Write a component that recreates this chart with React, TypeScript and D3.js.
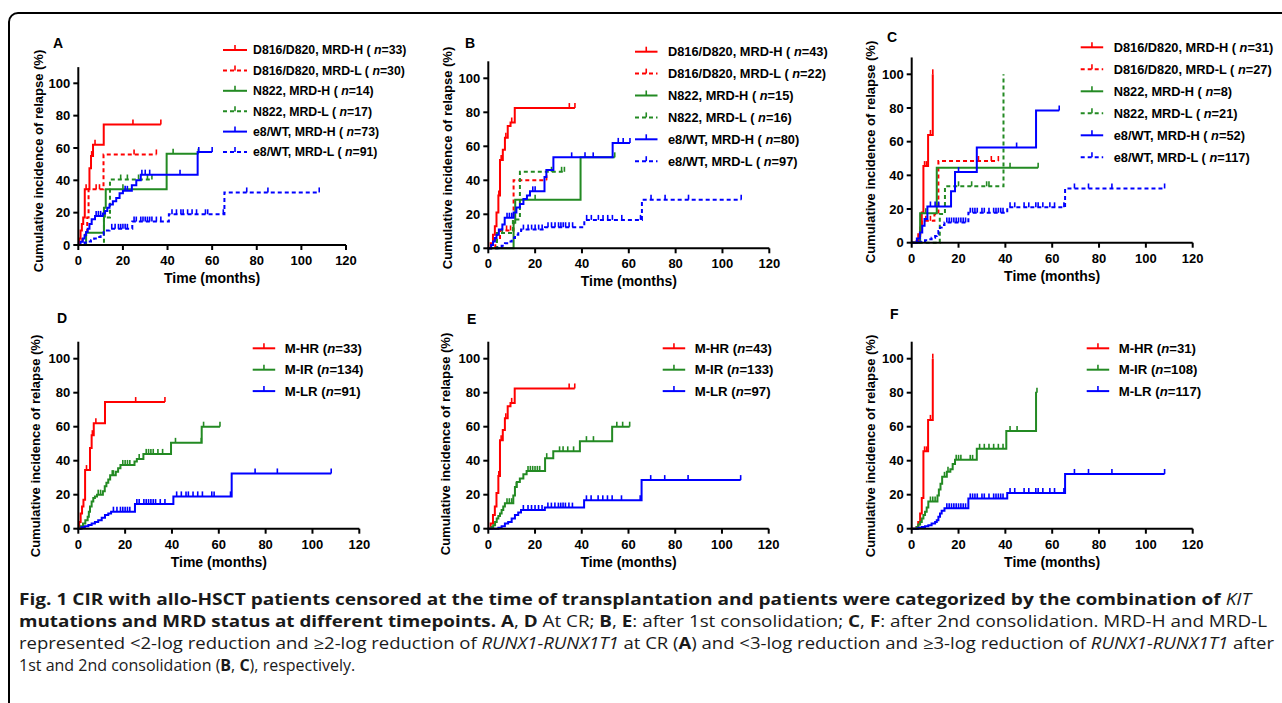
import * as d3 from "d3";

// ---- data (months, cumulative incidence %) ----

// At CR (A, D)
const crD816HTime = [0.4, 1, 1.6, 2.2, 2.9, 5, 5.7, 6.6, 11.4];
const crD816HCir = [4, 9, 13, 17, 34.5, 47.5, 55, 62, 74.5];
const crD816HCens = [3.5, 6, 7.5, 24.5, 37];
const crD816LTime = [1.8, 3, 4, 4.6, 11.3];
const crD816LCir = [3.5, 7, 17, 34.5, 56];
const crD816LCens = [8, 9.5, 25, 35];
const crN822HTime = [3.5, 11.5, 12.3, 39.6];
const crN822HCir = [7.5, 23, 34.5, 56.5];
const crN822HCens = [20, 42.5, 53.8];
const crN822LTime = [11.5, 14.2];
const crN822LCir = [17, 40.5];
const crN822LCens = [12, 19, 22, 27, 31, 33];
const crE8HTime = [1, 2, 2.8, 3.5, 4.2, 5, 6, 7.5, 11, 12, 13, 14, 15.5, 17, 18.5, 20, 24, 26, 28, 53.5];
const crE8HCir = [2, 4, 6, 8, 10, 13, 16, 18, 19.5, 21, 23, 25, 27, 29, 32, 33.5, 37, 40, 43.5, 57.5];
const crE8HCens = [8, 9, 10, 21, 22, 28.5, 30, 32, 45.6, 54, 60];
const crE8LTime = [1.4, 2.8, 4.3, 5.7, 7.1, 8.5, 10, 11.4, 12.8, 14, 24.2, 40.6, 65.5];
const crE8LCir = [0.8, 1.5, 2.2, 3, 4, 5, 6.5, 8, 9, 10, 14.5, 19, 32.5];
const crE8LCens = [15, 16.5, 18, 19, 20, 21, 22, 25, 26, 28, 29, 30, 31, 32, 33, 35, 37, 42, 44, 46, 47, 49, 51, 53, 57, 58, 65, 75.5, 85, 108];
const crMIRTime = [1, 2, 3, 4, 4.5, 5, 5.7, 6.4, 7.1, 8, 10.5, 11.3, 12, 12.8, 13.6, 16, 17, 18, 24, 25, 27.8, 39.6, 52.7];
const crMIRCir = [1.5, 3, 5, 7, 10, 13, 16, 18, 19, 20, 22, 25, 27, 29, 31.5, 33.5, 35.5, 37.5, 39.5, 41, 44, 50.5, 60];
const crMIRCens = [8.5, 9.5, 14.5, 15, 19, 20, 21, 22, 26, 29, 30, 31, 32, 34, 36, 41.5, 52.5, 53.5, 60.5];

// After 1st consolidation (B, E)
const c1D816HTime = [1, 2, 2.8, 3.5, 4.3, 5, 6.2, 7.1, 8.3, 9.5, 11.3];
const c1D816HCir = [3, 8, 13, 21, 31, 52, 58, 65, 72, 74, 82.5];
const c1D816HCens = [4.5, 5.5, 7.5, 10, 34.6, 37];
const c1D816LTime = [3, 5, 10.8];
const c1D816LCir = [5, 10.5, 40];
const c1D816LCens = [7.8, 9.5, 24.9];
const c1N822HTime = [10.8, 11.5, 39.4];
const c1N822HCir = [15, 28.5, 53.5];
const c1N822HCens = [20, 54];
const c1N822LTime = [3.7, 10.5, 13.5];
const c1N822LCir = [9, 17, 45];
const c1N822LCens = [6, 27, 31.3, 32.5];
const c1E8HTime = [1.2, 2, 2.8, 3.5, 4.5, 6, 7, 10.8, 12, 13.5, 15, 16.5, 17.8, 24, 24.8, 27.8, 53.1];
const c1E8HCir = [2, 4, 6, 8, 11, 14, 18, 21, 24, 26, 29, 31, 33.5, 42, 46, 53.5, 62];
const c1E8HCens = [8, 9, 10, 19, 20, 35.6, 41.3, 44.8, 55.5, 57.6, 60.5];
const c1E8LTime = [4.3, 5.7, 7.1, 8.5, 10, 11.4, 12.8, 14, 24.2, 41, 65.6];
const c1E8LCir = [0.5, 1.5, 3, 4, 6, 8, 9.5, 11, 12.4, 16.7, 28.6];
const c1E8LCens = [15, 17, 18.5, 20, 21.5, 23, 25.5, 27, 28.5, 30, 31, 32, 33, 34.5, 36, 42, 44, 47, 49, 51, 53, 57, 65, 69.5, 75.5, 85.5, 108];
const c1MIRTime = [1.4, 2.1, 2.9, 3.6, 4.3, 5, 5.7, 6.4, 7.1, 10.7, 11.4, 12.2, 13.5, 15, 16.4, 24.3, 27.8, 39.2, 53];
const c1MIRCir = [1, 2, 4, 6, 7.5, 9, 11, 13, 15, 19.5, 24.5, 27.5, 29.5, 32, 34, 41.5, 45.5, 51.5, 60];
const c1MIRCens = [8, 9, 10, 12, 17, 18, 19, 20, 21, 22, 25, 30.5, 32, 34, 36.5, 42, 45, 55, 57.5, 60.5];

// After 2nd consolidation (C, F)
const c2D816HTime = [2.1, 2.8, 3.6, 4.3, 5, 7, 9];
const c2D816HCir = [1, 4, 9, 18, 45.5, 64, 100];
const c2D816HCens = [5.5, 6.3, 8, 9];
const c2D816LTime = [2.8, 4.3, 9.7, 11.4];
const c2D816LCir = [5, 13, 17, 48.5];
const c2D816LCens = [6, 8, 28.5, 34, 37];
const c2N822HTime = [3.6, 10.7];
const c2N822HCir = [17.5, 44.5];
const c2N822HCens = [6, 42, 54];
const c2N822LTime = [12, 14.2, 39.2];
const c2N822LCir = [17, 33.5, 100];
const c2N822LCens = [20, 25.6, 32, 33];
const c2E8HTime = [2.2, 3.5, 4.5, 5.5, 6.7, 16.8, 18.5, 27.8, 53.1];
const c2E8HCir = [2.5, 6, 10, 14, 21.5, 30.5, 42, 56.5, 78.5];
const c2E8HCens = [8, 10, 11.5, 20, 44.8, 63];
const c2E8LTime = [2.8, 4.3, 5.7, 7.1, 8.5, 10, 10.7, 11.4, 12.1, 12.8, 14, 24.2, 40.8, 65.5];
const c2E8LCir = [0.5, 1, 1.5, 2, 3, 4, 5, 7, 9, 10.5, 12, 17.8, 21, 32.2];
const c2E8LCens = [15, 16, 17, 18, 19, 20, 21, 22, 23, 25, 26, 27, 28, 30, 31, 33, 35, 36, 37, 38, 39, 42, 44, 48, 50, 53, 54, 56, 59, 61, 65, 69.5, 75.5, 85.5, 108];
const c2MIRTime = [2.1, 2.8, 3.6, 4.3, 5, 5.7, 6.4, 7.1, 11, 11.6, 12.3, 13, 15, 16.5, 17.5, 18.5, 27.8, 40.4, 53.1];
const c2MIRCir = [1, 2.5, 4, 6, 8, 10, 12.5, 16, 19.5, 23, 26.5, 30.5, 33.5, 35, 38, 40.5, 47, 57.5, 80];
const c2MIRCens = [8, 9, 10, 14, 15.5, 19, 20, 21, 25, 26, 29, 31, 33, 35, 37, 39, 42, 45, 53.5];

const topLabels = ["D816/D820, MRD-H", "D816/D820, MRD-L", "N822, MRD-H", "N822, MRD-L", "e8/WT, MRD-H", "e8/WT, MRD-L"];
const bottomLabels = ["M-HR", "M-IR", "M-LR"];
const nA = [33, 30, 14, 17, 73, 91];
const nB = [43, 22, 15, 16, 80, 97];
const nC = [31, 27, 8, 21, 52, 117];
const nD = [33, 134, 91];
const nE = [43, 133, 97];
const nF = [31, 108, 117];

const xTicks = [0, 20, 40, 60, 80, 100, 120];
const yTicks = [0, 20, 40, 60, 80, 100];

const RED = "#ff0000";
const GREEN = "#238a23";
const BLUE = "#0000ff";
const FONT = "'Liberation Sans', Arial, sans-serif";

type Series = { label: string; n: number; color: string; dashed: boolean; time: number[]; cir: number[]; cens: number[] };
type Panel = {
  letter: string; lx: number; ly: number;
  x0: number; x1: number; y0: number; y100: number;
  tx: number; ty: number;
  legX: number; legY: number; legGap: number; legFont: number; spaced: boolean;
  series: Series[];
};

const topSeries = (n: number[], d: number[][][]): Series[] =>
  topLabels.map((label, i) => ({
    label, n: n[i], color: [RED, RED, GREEN, GREEN, BLUE, BLUE][i], dashed: i % 2 === 1,
    time: d[i][0], cir: d[i][1], cens: d[i][2],
  }));
const bottomSeries = (n: number[], d: number[][][]): Series[] =>
  bottomLabels.map((label, i) => ({
    label, n: n[i], color: [RED, GREEN, BLUE][i], dashed: false,
    time: d[i][0], cir: d[i][1], cens: d[i][2],
  }));

const panels: Panel[] = [
  { letter: "A", lx: 53, ly: 48, x0: 78.3, x1: 346, y0: 245, y100: 83.3, tx: 38, ty: 161,
    legX: 223, legY: 50, legGap: 20.4, legFont: 12.3, spaced: true,
    series: topSeries(nA, [[crD816HTime, crD816HCir, crD816HCens], [crD816LTime, crD816LCir, crD816LCens], [crN822HTime, crN822HCir, crN822HCens], [crN822LTime, crN822LCir, crN822LCens], [crE8HTime, crE8HCir, crE8HCens], [crE8LTime, crE8LCir, crE8LCens]]) },
  { letter: "B", lx: 465, ly: 48, x0: 488.3, x1: 769.3, y0: 248.3, y100: 78.3, tx: 447, ty: 158,
    legX: 635, legY: 51.7, legGap: 21.9, legFont: 12.8, spaced: true,
    series: topSeries(nB, [[c1D816HTime, c1D816HCir, c1D816HCens], [c1D816LTime, c1D816LCir, c1D816LCens], [c1N822HTime, c1N822HCir, c1N822HCens], [c1N822LTime, c1N822LCir, c1N822LCens], [c1E8HTime, c1E8HCir, c1E8HCens], [c1E8LTime, c1E8LCir, c1E8LCens]]) },
  { letter: "C", lx: 887, ly: 42, x0: 911.7, x1: 1192.7, y0: 242.7, y100: 74.3, tx: 870, ty: 152,
    legX: 1080.7, legY: 47.3, legGap: 22, legFont: 12.8, spaced: true,
    series: topSeries(nC, [[c2D816HTime, c2D816HCir, c2D816HCens], [c2D816LTime, c2D816LCir, c2D816LCens], [c2N822HTime, c2N822HCir, c2N822HCens], [c2N822LTime, c2N822LCir, c2N822LCens], [c2E8HTime, c2E8HCir, c2E8HCens], [c2E8LTime, c2E8LCir, c2E8LCens]]) },
  { letter: "D", lx: 57, ly: 323, x0: 78.3, x1: 359.3, y0: 528.7, y100: 358.7, tx: 35, ty: 446,
    legX: 252.7, legY: 348.3, legGap: 21.4, legFont: 13.2, spaced: false,
    series: bottomSeries(nD, [[crD816HTime, crD816HCir, crD816HCens], [crMIRTime, crMIRCir, crMIRCens], [crE8LTime, crE8LCir, crE8LCens]]) },
  { letter: "E", lx: 467, ly: 324, x0: 488.3, x1: 768.7, y0: 528.7, y100: 358.7, tx: 445, ty: 444,
    legX: 662.7, legY: 348.3, legGap: 21.4, legFont: 13.2, spaced: false,
    series: bottomSeries(nE, [[c1D816HTime, c1D816HCir, c1D816HCens], [c1MIRTime, c1MIRCir, c1MIRCens], [c1E8LTime, c1E8LCir, c1E8LCens]]) },
  { letter: "F", lx: 890, ly: 319, x0: 911.7, x1: 1192.7, y0: 528.7, y100: 358.7, tx: 870, ty: 446,
    legX: 1086.7, legY: 348.3, legGap: 21.4, legFont: 13.2, spaced: false,
    series: bottomSeries(nF, [[c2D816HTime, c2D816HCir, c2D816HCens], [c2MIRTime, c2MIRCir, c2MIRCens], [c2E8LTime, c2E8LCir, c2E8LCens]]) },
];

type Seg = [string, "b" | "i" | "r"];
const captionLines: { segs: Seg[]; width: number | null }[] = [
  { segs: [["Fig. 1 CIR with allo-HSCT patients censored at the time of transplantation and patients were categorized by the combination of ", "b"], ["KIT", "i"]], width: 1232 },
  { segs: [["mutations and MRD status at different timepoints. ", "b"], ["A", "b"], [", ", "r"], ["D", "b"], [" At CR; ", "r"], ["B", "b"], [", ", "r"], ["E", "b"], [": after 1st consolidation; ", "r"], ["C", "b"], [", ", "r"], ["F", "b"], [": after 2nd consolidation. MRD-H and MRD-L", "r"]], width: 1248 },
  { segs: [["represented <2-log reduction and ≥2-log reduction of ", "r"], ["RUNX1-RUNX1T1", "i"], [" at CR (", "r"], ["A", "b"], [") and <3-log reduction and ≥3-log reduction of ", "r"], ["RUNX1-RUNX1T1", "i"], [" after", "r"]], width: 1255 },
  { segs: [["1st and 2nd consolidation (", "r"], ["B", "b"], [", ", "r"], ["C", "b"], ["), respectively.", "r"]], width: null },
];

function Curve({ s, x, y }: { s: Series; x: d3.ScaleLinear<number, number>; y: d3.ScaleLinear<number, number> }) {
  const end = Math.max(d3.max(s.cens) ?? 0, s.time[s.time.length - 1]);
  const pts: [number, number][] = [[0, 0], ...s.time.map((t, i) => [t, s.cir[i]] as [number, number]), [end, s.cir[s.cir.length - 1]]];
  const line = d3.line<[number, number]>().x((d) => x(d[0])).y((d) => y(d[1])).curve(d3.curveStepAfter);
  const valueAt = (t: number) => {
    const i = d3.bisectRight(s.time, t);
    return i === 0 ? 0 : s.cir[i - 1];
  };
  return (
    <g stroke={s.color} strokeWidth={2} fill="none">
      <path d={line(pts) ?? ""} strokeDasharray={s.dashed ? "4,3" : undefined} />
      {s.cens.map((t, i) => (
        <line key={i} x1={x(t)} x2={x(t)} y1={y(valueAt(t))} y2={y(valueAt(t)) - 5} strokeWidth={1.6} />
      ))}
    </g>
  );
}

function ChartPanel({ p }: { p: Panel }) {
  const x = d3.scaleLinear().domain([0, 120]).range([p.x0, p.x1]);
  const y = d3.scaleLinear().domain([0, 100]).range([p.y0, p.y100]);
  const lineLen = p.letter === "A" ? 24 : 22.5;
  const textOff = p.spaced ? (p.letter === "A" ? 30 : 33) : 32;
  return (
    <g fontFamily={FONT} fontWeight="bold">
      <text x={p.lx} y={p.ly} fontSize={14}>{p.letter}</text>
      {p.series.map((s, i) => (
        <Curve key={i} s={s} x={x} y={y} />
      ))}
      {/* axes */}
      <g stroke="#000" strokeWidth={2}>
        <line x1={x(0)} x2={x(0)} y1={y(0)} y2={y(110)} />
        <line x1={x(0) - 1} x2={x(120)} y1={y(0)} y2={y(0)} />
        {yTicks.map((t) => (
          <line key={t} x1={x(0) - 5} x2={x(0)} y1={y(t)} y2={y(t)} />
        ))}
        {xTicks.map((t) => (
          <line key={t} x1={x(t)} x2={x(t)} y1={y(0)} y2={y(0) + 5} />
        ))}
      </g>
      {yTicks.map((t) => (
        <text key={t} x={x(0) - 8} y={y(t)} dy="0.36em" textAnchor="end" fontSize={13}>{t}</text>
      ))}
      {xTicks.map((t) => (
        <text key={t} x={x(t)} y={y(0) + 20} textAnchor="middle" fontSize={13}>{t}</text>
      ))}
      <text x={(x(0) + x(120)) / 2} y={y(0) + 38} textAnchor="middle" fontSize={14}>Time (months)</text>
      <text transform={`translate(${p.tx},${p.ty}) rotate(-90)`} dy="0.36em" textAnchor="middle" fontSize={13}>
        Cumulative incidence of relapse (%)
      </text>
      {/* legend */}
      {p.series.map((s, i) => {
        const ly = p.legY + i * p.legGap;
        return (
          <g key={i}>
            <line x1={p.legX} x2={p.legX + lineLen} y1={ly} y2={ly} stroke={s.color} strokeWidth={2} strokeDasharray={s.dashed ? "4,3" : undefined} />
            <line x1={p.legX + lineLen / 2} x2={p.legX + lineLen / 2} y1={ly} y2={ly - 5} stroke={s.color} strokeWidth={1.6} />
            <text x={p.legX + textOff} y={ly} dy="0.36em" fontSize={p.legFont}>
              {s.label + (p.spaced ? " ( " : " (")}
              <tspan fontStyle="italic">n</tspan>
              {"=" + s.n + ")"}
            </text>
          </g>
        );
      })}
    </g>
  );
}

export default function App() {
  const capY = [605, 627, 649, 671];
  return (
    <svg width={1282} height={703} style={{ position: "absolute", left: 0, top: 0, background: "#fff" }}>
      <rect width={1282} height={703} fill="#fff" />
      <path d="M9,710 L9,22 A9,9 0 0 1 18,13 L1290,13" fill="none" stroke="#000" strokeWidth={2} />
      {panels.map((p) => (
        <ChartPanel key={p.letter} p={p} />
      ))}
      <g fontFamily="'Open Sans', sans-serif" fontSize={16} fill="#1a1a1a">
        {captionLines.map((ln, i) => (
          <text key={i} x={19} y={capY[i]} textLength={ln.width ?? undefined} lengthAdjust={ln.width ? "spacingAndGlyphs" : undefined}>
            {ln.segs.map(([t, st], j) => (
              <tspan key={j} fontWeight={st === "b" ? "bold" : "normal"} fontStyle={st === "i" ? "italic" : "normal"}>{t}</tspan>
            ))}
          </text>
        ))}
      </g>
    </svg>
  );
}
